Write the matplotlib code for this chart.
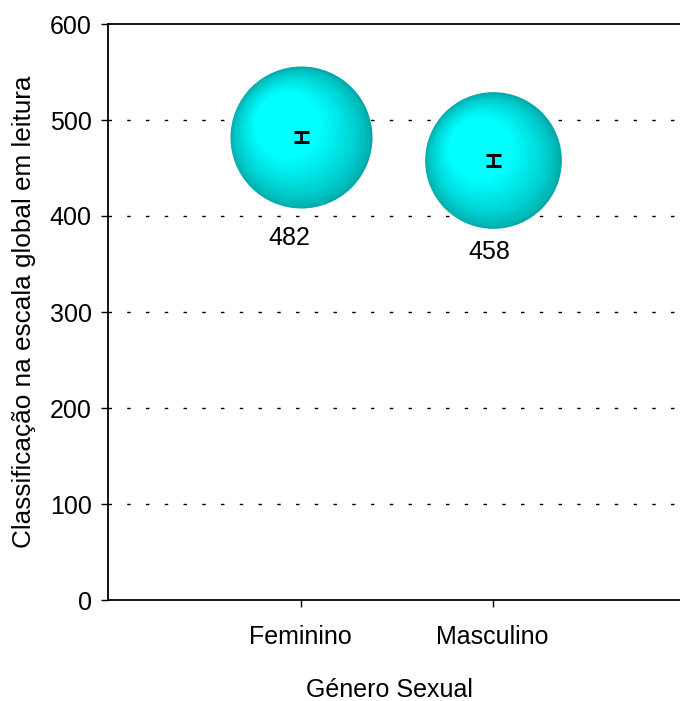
import numpy as np
import matplotlib
matplotlib.use("Agg")
import matplotlib.pyplot as plt
from matplotlib.transforms import offset_copy
from matplotlib.colors import to_rgb

# data
CATEGORIAS = ["Feminino", "Masculino"]
X_POS = [1, 2]
MEDIAS = [482, 458]
ERROS = [5.2, 5.5]
TAMANHO = [51.9, 48.1]          # bubble size (area-proportional)
Y_TICKS = [0, 100, 200, 300, 400, 500, 600]

# layout / style
DPI = 100
R_MAX_PX = 71
LABEL_OFFSETS_PX = [(-11, -101), (-3, -92)]
EDGE_COL = to_rgb("#00AAAA")
HIGH_COL = to_rgb("#00FFFF")
FONT = 18

plt.rcParams["font.family"] = ["Liberation Sans", "DejaVu Sans"]

fig = plt.figure(figsize=(6.8, 7.01), dpi=DPI)
ax = fig.add_axes([108.5 / 680, 101 / 701, 576 / 680, 576 / 701])
ax.set_xlim(0, 3)
ax.set_ylim(0, 600)

# dotted gridlines
for yv in Y_TICKS[1:-1]:
    ax.axhline(yv, color="black", lw=1.0, dashes=(2.5, 11), zorder=1)

# shaded bubbles: stack of shrinking circles drifting to the highlight
N = 40
for x, y, t_size in zip(X_POS, MEDIAS, TAMANHO):
    R = R_MAX_PX * np.sqrt(t_size / max(TAMANHO))
    for k in range(N):
        t = k / (N - 1)
        r = R * (1 - 0.97 * t)
        dx = -0.33 * R * t
        dy = 0.33 * R * t
        w = min(1.0, (t / 0.55)) ** 0.7
        col = tuple(e + (h - e) * w for e, h in zip(EDGE_COL, HIGH_COL))
        tr = offset_copy(ax.transData, fig=fig, x=dx, y=dy, units="dots")
        d_pt = 2 * r * 72 / DPI
        ax.scatter([x], [y], s=d_pt ** 2, color=col, transform=tr,
                   linewidths=0, zorder=2 + k * 0.001)

ax.errorbar(X_POS, MEDIAS, yerr=ERROS, fmt="none", ecolor="black",
            elinewidth=2.0, capsize=5.4, capthick=2.2, zorder=5)

for x, y, (ox, oy) in zip(X_POS, MEDIAS, LABEL_OFFSETS_PX):
    ax.annotate(f"{y}", (x, y), xytext=(ox * 72 / DPI, oy * 72 / DPI),
                textcoords="offset points", ha="center", va="center",
                fontsize=FONT, color="black", zorder=6)

ax.set_yticks(Y_TICKS)
ax.set_yticklabels([str(v) for v in Y_TICKS], fontsize=FONT)
ax.set_xticks(X_POS)
ax.set_xticklabels(CATEGORIAS, fontsize=FONT)
ax.tick_params(axis="y", direction="out", length=5.2, width=1, pad=7)
ax.tick_params(axis="x", direction="out", length=5.0, width=1, pad=13)

for s in ["left", "bottom", "top"]:
    ax.spines[s].set_linewidth(1.3)
ax.spines["right"].set_visible(False)

ax.set_ylabel("Classificação na escala global em leitura", fontsize=18.8)
ax.set_xlabel("Género Sexual", fontsize=FONT)
ax.yaxis.set_label_coords(-72 / 576, 0.5)
ax.xaxis.set_label_coords(0.487, -78 / 576)

fig.savefig("out.png", dpi=DPI)
